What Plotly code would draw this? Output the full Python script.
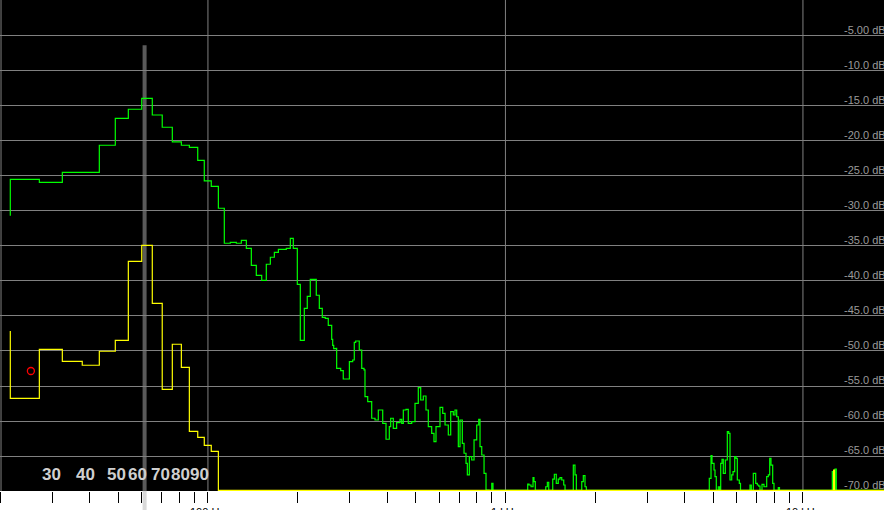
import numpy as np
import plotly.graph_objects as go

# ---------------- data ----------------
green_freq = [21.66, 21.66, 27.12, 32.4, 43.14, 48.82, 54.0, 59.9, 65.0, 70.2, 75.9, 81.4, 86.6, 92.4, 97.2,
              102.6, 108.4, 113.5, 118.9, 124.6, 129.5, 134.6, 139.9, 145.4, 151.6, 157.1, 162.1, 167.2, 172.5,
              183.4, 189.2, 193.6, 199.7, 204.4, 210.8, 215.7, 220.8, 231.3, 236.8, 242.3, 248.0, 253.8, 260.6,
              262.6, 264.7,
              269.4, 270.8, 279.4, 285.0, 291.0, 298.8, 306.6, 310.4, 313.8, 322.6, 328.8, 334.6, 337.2, 344.4,
              355.2, 364.4, 373.8, 378.8, 386.8, 396.8, 407.0, 411.4, 419.8, 430.8, 442.2, 448.0, 453.6, 463.2,
              471.4, 484.2, 496.6, 509.4, 519.0, 529.6, 540.6, 550.4, 565.0, 575.2, 584.2, 602.6, 615.4, 626.6,
              642.6, 654.6, 668.0, 676.8, 685.8, 694.4, 703.6, 716.2, 725.8, 737.0, 744.6, 756.2, 770.2, 784.2,
              800.8, 813.2, 821.4, 832.4, 847.4, 860.4, 880.8, 899.4, 908.2,
              1188, 1200, 1219, 1238, 1247, 1260, 1366, 1383, 1398, 1442, 1460, 1482, 1505, 1525, 1546, 1570,
              1586, 1691, 1713, 1731, 1805, 1827, 1851, 1870, 4844, 4909, 4947, 5024, 5063, 5114, 5194, 5247,
              5291, 5345, 5399, 5483, 5569, 5630, 5686, 5762, 5820, 5897, 5957, 6017, 6111, 6168, 6638, 6705,
              6810, 6937, 7024, 7100, 7172, 7284, 7397, 7554, 7648, 7731, 7809, 7912, 7992, 8263, 8340, 12551,
              12650, 12817, 12946, 18726]
green_db = [-30.67, -25.47, -25.9, -24.47, -20.61, -16.76, -15.47, -13.9, -16.29, -18.04, -20.14, -20.61, -20.9,
            -22.76, -25.71, -26.47, -29.61, -34.61, -34.47, -34.61, -34.19, -35.33, -37.76, -39.19, -39.9, -37.61,
            -36.61, -35.9, -35.47, -35.33, -33.9, -35.33, -40.47, -48.47, -43.9, -42.19, -39.76, -42.04, -43.9,
            -45.19, -45.33, -46.33, -48.33, -49.19, -49.67,
            -49.61, -52.47, -52.81, -54.0, -54.0, -51.53, -51.29, -48.76, -48.57, -49.86, -52.47, -52.71, -56.53,
            -57.24, -59.61, -59.86, -58.43, -58.43, -60.33, -62.61, -60.81, -59.61, -61.04, -60.24, -59.76, -60.33,
            -58.43, -58.33, -60.33, -60.1, -57.47, -55.24, -57.0, -56.43, -58.43, -60.81, -61.76, -62.96, -60.81,
            -58.04, -58.9, -60.57, -62.0, -58.67, -59.14, -58.43, -59.39, -63.67, -59.86, -63.19, -64.61, -66.04,
            -67.71, -65.1, -65.57, -62.71, -60.57, -59.76, -63.67, -64.86, -67.47, -69.86, -69.9, -68.9, -69.9,
            -69.0, -69.14, -69.39, -68.1, -68.67, -69.9, -69.39, -68.76, -69.9, -68.29, -67.61, -68.9, -68.29,
            -68.1, -68.43, -69.14, -69.9, -66.29, -67.71, -69.9, -68.67, -67.81, -69.39, -69.9, -68.19, -64.96,
            -66.04, -67.0, -67.96, -69.9, -69.39, -69.9, -66.04, -65.47, -67.47, -65.57, -61.53, -61.76, -68.43,
            -67.71, -67.24, -65.1, -65.33, -68.43, -68.9, -69.9, -69.14, -69.9, -67.47, -68.9, -69.14, -69.29,
            -69.9, -69.04, -69.39, -67.96, -67.71, -65.33, -66.29, -68.9, -69.9, -69.53, -69.9, -67.24, -69.9,
            -66.86, -69.9, -69.9]

yellow_freq = [21.66, 21.66, 27.12, 32.4, 37.8, 43.14, 48.82, 54.0, 59.9, 65.0, 70.2, 75.9, 81.4, 86.6, 92.4,
               97.2, 102.6, 108.4, 12679, 12768, 18726]
yellow_db = [-47.14, -56.76, -49.76, -51.47, -52.04, -50.04, -48.47, -37.19, -34.9, -43.19, -55.47, -49.04,
             -52.33, -61.47, -62.33, -63.47, -64.33, -69.9, -67.0, -69.9, -69.9]

marker_freq = [25.4]
marker_db = [-52.86]

octave_labels = [30, 40, 50, 60, 70, 80, 90]
octave_label_shift = [-1, -4, -2, -4, -1, 1, 5]
decade_freqs = [100, 1000, 10000]
decade_labels = ["100 Hz", "1 kHz", "10 kHz"]
grid_freqs = [20.16, 100, 1000, 10000]
freq_ticks = [20, 30, 40, 50, 60, 70, 80, 90, 100, 200, 300, 400, 500, 600, 700, 800, 900,
              1000, 2000, 3000, 4000, 5000, 6000, 7000, 8000, 9000, 10000]
db_ticks = [-5, -10, -15, -20, -25, -30, -35, -40, -45, -50, -55, -60, -65, -70]
db_labels = ["-5.00 dB", "-10.0 dB", "-15.0 dB", "-20.0 dB", "-25.0 dB", "-30.0 dB", "-35.0 dB",
             "-40.0 dB", "-45.0 dB", "-50.0 dB", "-55.0 dB", "-60.0 dB", "-65.0 dB", "-70.0 dB"]
cursor_band = [60.3, 62.2]
freq_range = [20, 18726]
db_range = [-70, 0.14]

assert len(green_freq) == len(green_db)
assert len(yellow_freq) == len(yellow_db)

FONT = "Liberation Sans, Arial, sans-serif"

fig = go.Figure()
fig.add_trace(go.Scatter(x=green_freq, y=green_db, mode="lines",
                         line=dict(color="#00ff00", width=1.2, shape="hv"), hoverinfo="skip"))
fig.add_trace(go.Scatter(x=yellow_freq, y=yellow_db, mode="lines",
                         line=dict(color="#ffff00", width=1.2, shape="hv"), hoverinfo="skip"))
fig.add_trace(go.Scatter(x=marker_freq, y=marker_db, mode="markers",
                         marker=dict(symbol="circle-open", size=7, color="#ff0000",
                                     line=dict(width=1.3, color="#ff0000")), hoverinfo="skip"))

shapes = []
for f in grid_freqs:
    shapes.append(dict(type="line", xref="x", yref="paper", x0=f, x1=f, y0=0, y1=1,
                       line=dict(color="#808080", width=1), layer="between"))
shapes.append(dict(type="rect", xref="x", yref="paper", x0=cursor_band[0], x1=cursor_band[1],
                   y0=-0.04, y1=0.908, fillcolor="rgba(180,180,180,0.5)", line=dict(width=0),
                   layer="between"))

annotations = []
for t, lab in zip(db_ticks, db_labels):
    annotations.append(dict(xref="paper", yref="y", x=842 / 884, y=t, text=lab, showarrow=False,
                            xanchor="left", yanchor="bottom", yshift=-2,
                            font=dict(family=FONT, size=11, color="#9a9a9a")))
for v, sh in zip(octave_labels, octave_label_shift):
    annotations.append(dict(xref="x", yref="paper", x=np.log10(v), y=0.0326, text="<b>%d</b>" % v,
                            showarrow=False, xanchor="center", yanchor="middle", xshift=sh,
                            font=dict(family=FONT, size=17, color="#cfcfcf")))
for f, lab in zip(decade_freqs, decade_labels):
    annotations.append(dict(xref="x", yref="paper", x=np.log10(f), y=-0.0265, text=lab, showarrow=False,
                            xanchor="center", yanchor="top", font=dict(family=FONT, size=11, color="#000000")))

fig.update_layout(
    width=884, height=510,
    margin=dict(l=0, r=0, t=0, b=19, pad=0),
    paper_bgcolor="#ffffff", plot_bgcolor="#000000",
    showlegend=False,
    shapes=shapes, annotations=annotations,
    xaxis=dict(type="log", range=[np.log10(freq_range[0]), np.log10(freq_range[1])],
               tickvals=freq_ticks, showticklabels=False, ticks="outside", ticklen=11,
               tickcolor="#000000", tickwidth=1, showgrid=False, zeroline=False, showline=False),
    yaxis=dict(range=db_range, tickvals=db_ticks, showticklabels=False, ticks="",
               showgrid=True, gridcolor="#808080", gridwidth=1, zeroline=False, showline=False),
)

fig.write_html("out.html", config={"displayModeBar": False},
               post_script="document.body.style.margin='0';document.body.style.overflow='hidden';")
